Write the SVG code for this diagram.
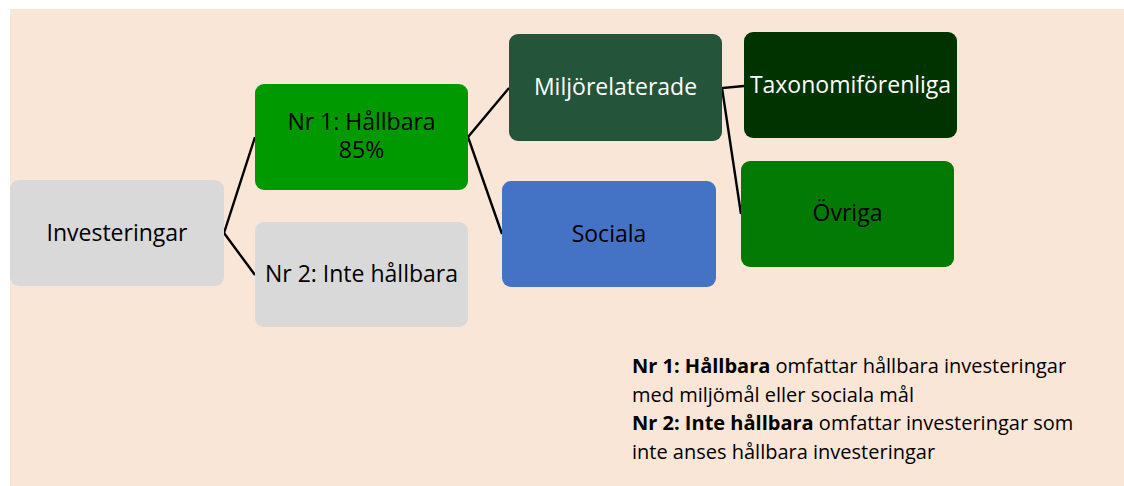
<svg xmlns="http://www.w3.org/2000/svg" width="1124" height="486" viewBox="0 0 1124 486">
<style>
.t{font-family:"Open Sans","Liberation Sans",sans-serif;font-size:23px;text-anchor:middle;fill:#000}
.w{fill:#fff}
.c{stroke:#000;stroke-width:2.4;fill:none}
.n{font-family:"Open Sans","Liberation Sans",sans-serif;font-size:20px;fill:#000}
</style>
<rect x="0" y="0" width="1124" height="486" fill="#fff"/>
<rect x="10" y="9" width="1114" height="477" fill="#FAE6D6"/>
<g id="connectors">
<polyline class="c" points="255,137 224,233 255,275"/>
<polyline class="c" points="509,88 468,137 502,234"/>
<polyline class="c" points="744,86 722,88 741,214"/>
</g>
<g id="investeringar">
<rect x="10" y="180" width="214" height="106" rx="9" fill="#D9D9D9"/>
<text class="t" x="117" y="241">Investeringar</text>
</g>
<g id="nr1">
<rect x="255" y="84" width="213" height="106" rx="9" fill="#009900"/>
<text class="t" x="361.5" y="130">Nr 1: Hållbara<tspan x="361.5" dy="28">85%</tspan></text>
</g>
<g id="nr2">
<rect x="255" y="222" width="213" height="105" rx="9" fill="#D9D9D9"/>
<text class="t" x="361.5" y="282">Nr 2: Inte hållbara</text>
</g>
<g id="miljo">
<rect x="509" y="34" width="213" height="107" rx="9" fill="#245439"/>
<text class="t w" x="615.5" y="95">Miljörelaterade</text>
</g>
<g id="sociala">
<rect x="502" y="181" width="214" height="106" rx="9" fill="#4472C4"/>
<text class="t" x="609" y="242">Sociala</text>
</g>
<g id="taxonomi">
<rect x="744" y="32" width="213" height="106" rx="9" fill="#003300"/>
<text class="t w" x="850.5" y="93">Taxonomiförenliga</text>
</g>
<g id="ovriga">
<rect x="741" y="161" width="213" height="106" rx="9" fill="#037A03"/>
<text class="t" x="847.5" y="221">Övriga</text>
</g>
<g id="note">
<text class="n" x="632" y="373"><tspan font-weight="bold">Nr 1: Hållbara</tspan> omfattar hållbara investeringar<tspan x="632" dy="29">med miljömål eller sociala mål</tspan><tspan x="632" dy="28" font-weight="bold">Nr 2: Inte hållbara</tspan> omfattar investeringar som<tspan x="632" dy="29">inte anses hållbara investeringar</tspan></text>
</g>
</svg>
